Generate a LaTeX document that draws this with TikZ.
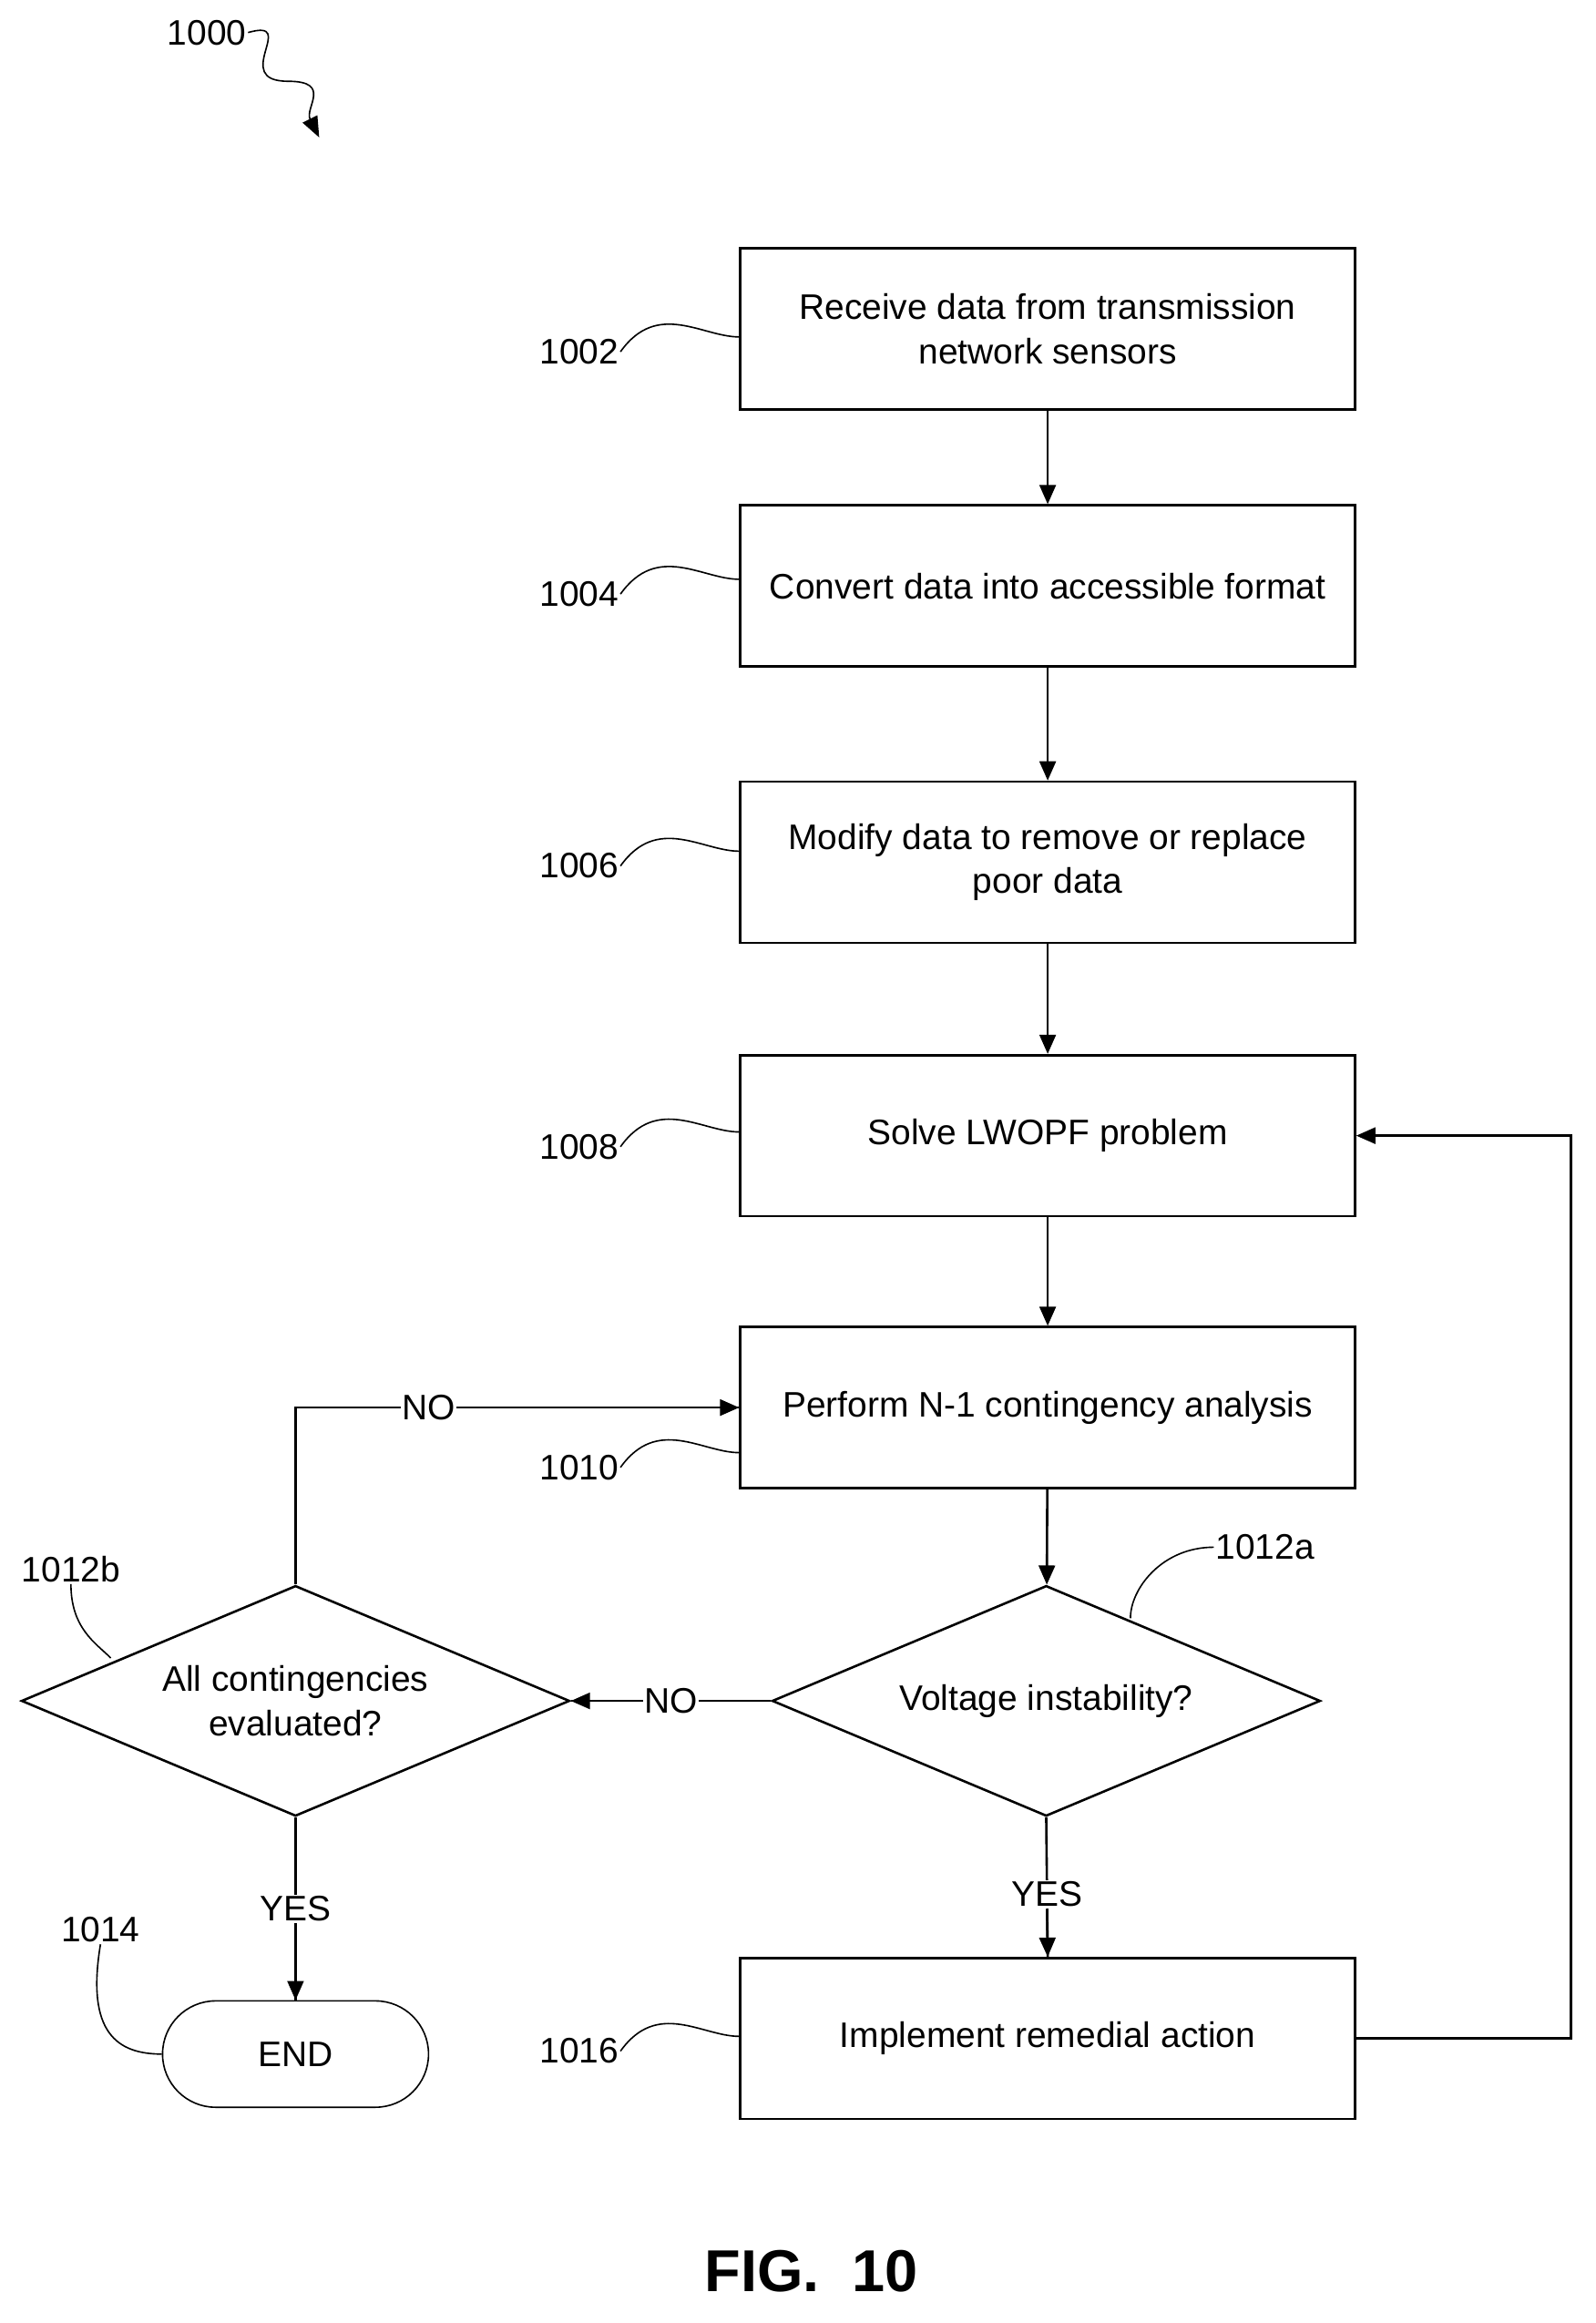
\documentclass[tikz,border=0pt]{standalone}
\usepackage{fontspec}
\setmainfont{Liberation Sans}
\usetikzlibrary{shapes.geometric,arrows.meta}
\begin{document}
\begin{tikzpicture}[x=1pt,y=-1pt,
 box/.style={draw,line width=1.6pt,minimum width=416pt,minimum height=109pt,align=center,font=\fontsize{24}{30}\selectfont,inner sep=0pt},
 dia/.style={draw,line width=1.6pt,diamond,minimum width=371pt,minimum height=156pt,aspect=2.4,align=center,font=\fontsize{24}{30}\selectfont,inner sep=0pt},
 lbl/.style={font=\fontsize{24}{28}\selectfont,inner sep=1pt},
 arr/.style={line width=1.6pt,-{Triangle[length=13pt,width=11pt]}},
 ln/.style={line width=1.6pt}]
\useasboundingbox (0,0) rectangle (1080,1572);
\node[box] (b1) at (709,222.5) {Receive data from transmission\\network sensors};
\node[box] (b2) at (709,396.5) {Convert data into accessible format};
\node[box] (b3) at (709,583.5) {Modify data to remove or replace\\poor data};
\node[box] (b4) at (709,768.5) {Solve LWOPF problem};
\node[box] (b5) at (709,952.5) {Perform N-1 contingency analysis};
\node[dia] (d1) at (708,1151) {Voltage instability?};
\node[dia] (d2) at (200,1151) {All contingencies\\evaluated?};
\node[box] (b6) at (709,1379.5) {Implement remedial action};
\node[draw,line width=1pt,rounded corners=36pt,minimum width=180pt,minimum height=72pt,font=\fontsize{24}{30}\selectfont] (end) at (200,1390) {END};
\draw[arr] (b1) -- (b2);
\draw[arr] (b2) -- (b3);
\draw[arr] (b3) -- (b4);
\draw[arr] (b4) -- (b5);
\draw[arr] (b5) -- (d1);
\draw[ln] (d1.south) -- node[lbl,fill=white,pos=0.55] (yes1) {YES} (b6.north);
\draw[arr] (yes1.south) -- (b6.north);
\draw[ln] (d1.west) -- node[lbl,fill=white] (no1) {NO} (d2.east);
\draw[arr] (no1.west) -- (d2.east);
\coordinate (c1) at (200,952.5);
\draw[ln] (d2.north) -- (c1) -- node[lbl,fill=white,pos=0.3] (no2) {NO} (b5.west);
\draw[arr] (no2.east) -- (b5.west);
\draw[ln] (d2.south) -- node[lbl,fill=white,pos=0.5] (yes2) {YES} (end.north);
\draw[arr] (yes2.south) -- (end.north);
\coordinate (r1) at (1063,1379.5);
\coordinate (r2) at (1063,768.5);
\draw[arr] (b6.east) -- (r1) -- (r2) -- (b4.east);
% reference labels
\node[lbl] (l1) at (392,238) {1002};
\node[lbl] (l2) at (392,402) {1004};
\node[lbl] (l3) at (392,586) {1006};
\node[lbl] (l4) at (392,776) {1008};
\node[lbl] (l5) at (392,993) {1010};
\node[lbl] (l6) at (392,1388) {1016};
\foreach \l/\b in {l1/b1,l2/b2,l3/b3,l4/b4,l5/b5,l6/b6}{
 \draw[line width=1pt] (\l.east) .. controls +(25,-35) and +(-25,0) .. ([yshift=10pt]\b.south west|-\l.east);
}
\node[lbl] (l7) at (856,1047) {1012a};
\coordinate (p7) at (765,1095);
\draw[line width=1pt] (l7.west) .. controls +(-35,0) and +(0,-20) .. (p7);
\node[lbl] (l8) at (48,1062) {1012b};
\coordinate (p8) at (75,1122);
\draw[line width=1pt] (l8.south) ++(0,0) .. controls +(0,30) and +(-10,-10) .. (p8);
\node[lbl] (l9) at (68,1306) {1014};
\draw[line width=1pt] (l9.south) .. controls +(-10,60) and +(-30,0) .. (end.west);
\node[lbl] (l10) at (140,22) {1000};
\coordinate (p10) at (216,93);
\draw[line width=1pt,-{Triangle[length=14pt,width=11pt]}] (l10.east) .. controls +(35,-10) and +(-40,0) .. (195,55) .. controls +(30,0) and +(-10,-20) .. (p10);
\node[font=\bfseries\fontsize{40}{46}\selectfont] (fig) at (549,1537) {FIG.\ \ 10};
\end{tikzpicture}
\end{document}
